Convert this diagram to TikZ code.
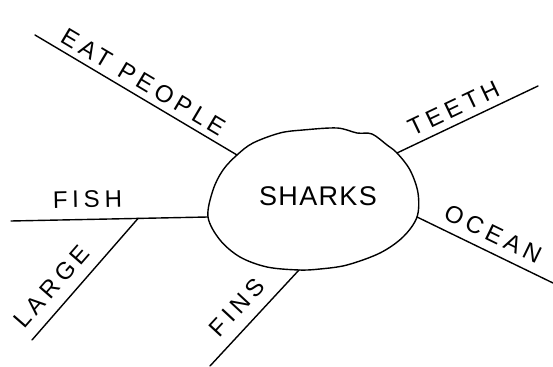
\documentclass[tikz,border=0pt]{standalone}
\usepackage{fontspec}
\setmainfont{Liberation Sans}
\newfontfamily\handfont[LetterSpace=20]{Liberation Sans}
\newfontfamily\titlefont[LetterSpace=5]{Liberation Sans}

\begin{document}
\begin{tikzpicture}[x=1pt, y=1pt, line width=1.4pt, line cap=round,
    word/.style={sloped, inner sep=2pt, font=\handfont\fontsize{24}{28}\selectfont}]
    \useasboundingbox (0,0) rectangle (553,366);

    % Where the spokes meet the blob
    \coordinate (fishjoin) at (208,149);
    \coordinate (eatjoin) at (237,211);
    \coordinate (teethjoin) at (397,213);
    \coordinate (oceanjoin) at (417,149);
    \coordinate (finsjoin) at (299,96);

    % Free ends
    \coordinate (eatend) at (35,331);
    \coordinate (teethend) at (538,280);
    \coordinate (oceanend) at (553,83);
    \coordinate (fishend) at (11,145);
    \coordinate (largeend) at (32,26);
    \coordinate (finsend) at (210,0);

    % Blob
    \draw plot[smooth cycle, tension=0.55] coordinates {
        (fishjoin) (213,176) (223,196) (eatjoin) (253,223) (280,233) (303,236)
        (337,238) (357,233) (372,232) (387,221) (teethjoin) (410,196) (418,173)
        (oceanjoin) (403,129) (380,113) (347,101) (320,97) (finsjoin) (267,99)
        (240,109) (220,126)};
    \node[font=\titlefont\fontsize{27}{30}\selectfont] (sharks) at (318,170) {SHARKS};

    % Spokes
    \draw (eatend) -- node[word, pos=0.5, above=4pt] (eat) {EAT PEOPLE} (eatjoin);
    \draw (teethjoin) -- node[word, pos=0.45, above=5pt] (teeth) {TEETH} (teethend);
    \draw (oceanjoin) -- node[word, pos=0.5, above=7pt] (ocean) {OCEAN} (oceanend);
    \draw (fishend) -- coordinate[pos=0.645] (fork)
        node[word, pos=0.39, above=9pt] (fish) {FISH} (fishjoin);
    \draw (largeend) -- node[word, pos=0.33, above=9pt] (large) {LARGE} (fork);
    \draw (finsend) -- node[word, pos=0.47, above=9pt] (fins) {FINS} (finsjoin);
\end{tikzpicture}
\end{document}
